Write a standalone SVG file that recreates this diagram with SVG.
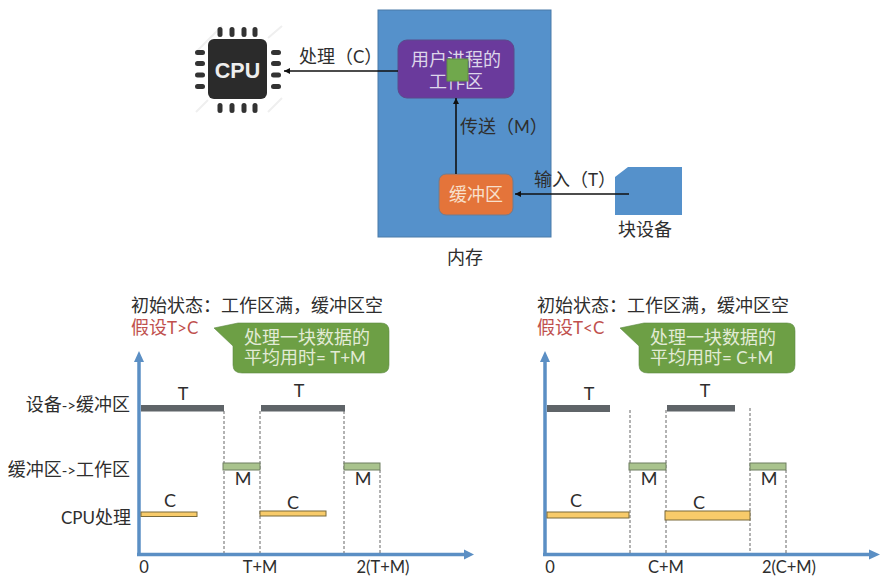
<svg xmlns="http://www.w3.org/2000/svg" width="881" height="587" viewBox="0 0 881 587">
<style>
text{font-family:"Lato","Liberation Sans",sans-serif;fill:#2e2e2e}
.l{font-size:18px;font-family:"Noto Sans CJK SC","Liberation Sans",sans-serif}
.la{font-size:17px;font-family:"Lato","Liberation Sans",sans-serif}
.ar{font-size:15px;font-family:"Lato","Liberation Sans",sans-serif}
.e{text-anchor:end}
.lt{font-size:18px;text-anchor:middle}
.ax{font-size:16.500px;text-anchor:middle}
.mid{text-anchor:middle}
.w{fill:#ddd6ea}
.o{fill:#f8e0cc}
.g{fill:#e2ebd6}
.r{fill:#c0504d}
.callout{fill:#6d9f45;stroke:#5e8a44;stroke-width:.6}
.axis{stroke:#5b8fc4;stroke-width:3.5;fill:none}
.ah{fill:#5b8fc4}
.d{stroke:#666;stroke-width:1;stroke-dasharray:3 2;fill:none}
.t{fill:#5f6468}
.m{fill:#a9c38d;stroke:#6f7f60;stroke-width:1}
.c{fill:#f8cb6a;stroke:#7a6a3a;stroke-width:1}
.conn{stroke:#111;stroke-width:1.6;fill:none}
.pin{fill:#333}
</style>
<defs>
<marker id="arr" markerWidth="8" markerHeight="8" refX="6" refY="3" orient="auto" markerUnits="userSpaceOnUse"><path d="M0,0L6,3L0,6Z" fill="#111"/></marker>
<g id="pinsH"><rect x="0" y="0" width="10" height="5" rx="2.5" class="pin"/><rect x="0" y="11" width="10" height="5" rx="2.5" class="pin"/><rect x="0" y="22.500" width="10" height="5" rx="2.5" class="pin"/><rect x="0" y="34" width="10" height="5" rx="2.5" class="pin"/></g>
<g id="pinsV"><rect x="0" y="0" width="5" height="10" rx="2.5" class="pin"/><rect x="12" y="0" width="5" height="10" rx="2.5" class="pin"/><rect x="24" y="0" width="5" height="10" rx="2.5" class="pin"/><rect x="35" y="0" width="5" height="10" rx="2.5" class="pin"/></g>
</defs>

<g id="memory"><rect x="378" y="10" width="173" height="227" fill="#5591cb" stroke="#4a7aa8"/><text x="465" y="264" class="l mid">内存</text></g>

<g id="cpu">
<path d="M196,52L222,26M196,112L208,100M268,38L282,26M268,112L282,98" stroke="#efefef" stroke-width="2" fill="none"/>
<rect x="208" y="39" width="59" height="60" rx="6" fill="#2b2b2b"/>
<use href="#pinsV" x="217.500" y="27"/><use href="#pinsV" x="217.500" y="103"/>
<use href="#pinsH" x="195" y="50"/><use href="#pinsH" x="271" y="50"/>
<text x="237.500" y="78" font-size="21.500" font-weight="700" text-anchor="middle" style="fill:#eee;font-family:'Liberation Sans',sans-serif">CPU</text>
</g>

<g id="workarea">
<rect x="398" y="40" width="116" height="58" rx="9" fill="#6a3a9c" stroke="#5b4a8c"/>
<text x="456" y="66" class="l w mid">用户进程的</text>
<text x="456" y="88" class="l w mid">工作区</text>
<rect x="447" y="59" width="21" height="22" fill="#70a84c" stroke="#5e8a44"/>
</g>

<g id="buffer"><rect x="439" y="174" width="74" height="41" rx="7" fill="#e4743a" stroke="#6e7c90"/><text x="476" y="201" class="l o mid">缓冲区</text></g>

<g id="device"><path d="M615,177L628,167H682V215H615Z" fill="#5591cb"/><text x="645" y="236" class="l mid">块设备</text></g>

<g id="connectors">
<path class="conn" d="M398,71H284" marker-end="url(#arr)"/>
<path class="conn" d="M456,174V98" marker-end="url(#arr)"/>
<path class="conn" d="M629,194H515" marker-end="url(#arr)"/>
</g>

<g id="toplabels">
<text x="299" y="63" class="l">处理（<tspan class="la">C</tspan>）</text>
<text x="460" y="133" class="l">传送（<tspan class="la">M</tspan>）</text>
<text x="534" y="186" class="l">输入（<tspan class="la">T</tspan>）</text>
</g>

<g id="chart-left">
<text x="131" y="312" class="l">初始状态：工作区满，缓冲区空</text>
<text x="131" y="334" class="l r">假设<tspan class="la r">T&gt;C</tspan></text>
<path class="callout" d="M214,328L238,323H381Q389,323 389,331V365Q389,373 381,373H242Q233,373 233,365V346Z"/>
<text x="244" y="344" class="l g">处理一块数据的</text>
<text x="244" y="364" class="l g">平均用时<tspan class="la g">= T+M</tspan></text>
<path class="axis" d="M139,556V358"/><path class="ah" d="M134,362L139,351L144,362Z"/>
<path class="axis" d="M137,554.500H465"/><path class="ah" d="M464,549.500L474,554.500L464,559.500Z"/>
<text x="130" y="411" class="l e">设备<tspan class="ar">-&gt;</tspan>缓冲区</text>
<text x="130" y="476" class="l e">缓冲区<tspan class="ar">-&gt;</tspan>工作区</text>
<text x="131" y="524" class="l e"><tspan class="la">CPU</tspan>处理</text>
<path class="d" d="M224,411V553M260,411V553M344,411V553M380,470V553"/>
<rect x="141" y="405" width="83" height="6.500" class="t"/>
<rect x="261" y="405" width="84" height="6.500" class="t"/>
<rect x="223" y="463" width="37" height="7" class="m"/>
<rect x="344" y="463" width="36" height="7" class="m"/>
<rect x="141" y="512" width="56" height="4.500" class="c"/>
<rect x="260" y="511" width="66" height="5" class="c"/>
<text x="183" y="400" class="lt">T</text><text x="299" y="397" class="lt">T</text>
<text x="243" y="485" class="lt">M</text><text x="363" y="485" class="lt">M</text>
<text x="170" y="507" class="lt">C</text><text x="293" y="509" class="lt">C</text>
<text x="144" y="573" class="ax">0</text><text x="260" y="573" class="ax">T+M</text><text x="383" y="573" class="ax">2(T+M)</text>
</g>

<g id="chart-right">
<text x="537" y="312" class="l">初始状态：工作区满，缓冲区空</text>
<text x="537" y="334" class="l r">假设<tspan class="la r">T&lt;C</tspan></text>
<path class="callout" d="M620,328L644,323H787Q795,323 795,331V365Q795,373 787,373H648Q639,373 639,365V346Z"/>
<text x="650" y="344" class="l g">处理一块数据的</text>
<text x="650" y="364" class="l g">平均用时<tspan class="la g">= C+M</tspan></text>
<path class="axis" d="M545,556V358"/><path class="ah" d="M540,362L545,351L550,362Z"/>
<path class="axis" d="M543,554.500H870"/><path class="ah" d="M869,549.500L880,554.500L869,559.500Z"/>
<path class="d" d="M630,410V553M666,410V553M750,408V553M786,470V553"/>
<rect x="547" y="405" width="63" height="7" class="t"/>
<rect x="667" y="405" width="68" height="6.500" class="t"/>
<rect x="629" y="463" width="37" height="7" class="m"/>
<rect x="750" y="463" width="36" height="7" class="m"/>
<rect x="547" y="512" width="82" height="6" class="c"/>
<rect x="665" y="511" width="85" height="9" class="c"/>
<text x="589" y="400" class="lt">T</text><text x="705" y="397" class="lt">T</text>
<text x="649" y="485" class="lt">M</text><text x="769" y="485" class="lt">M</text>
<text x="576" y="507" class="lt">C</text><text x="699" y="509" class="lt">C</text>
<text x="550" y="573" class="ax">0</text><text x="666" y="573" class="ax">C+M</text><text x="789" y="573" class="ax">2(C+M)</text>
</g>
</svg>
